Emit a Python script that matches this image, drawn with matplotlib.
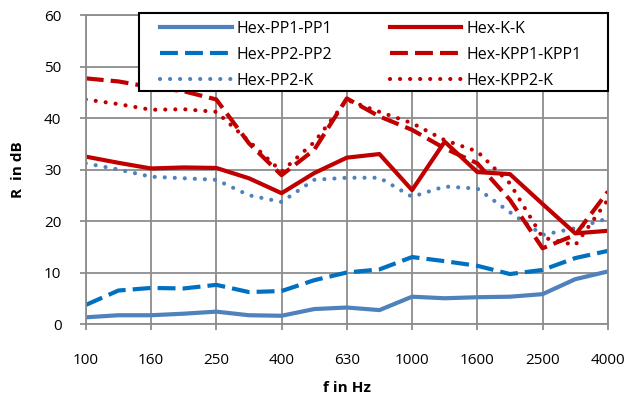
import matplotlib.pyplot as plt
from matplotlib.patches import Rectangle

freqs = ['100', '125', '160', '200', '250', '315', '400', '500', '630', '800',
         '1000', '1250', '1600', '2000', '2500', '3150', '4000']

pp1_pp1 = [1.3, 1.7, 1.7, 2.0, 2.4, 1.7, 1.6, 2.9, 3.2, 2.7, 5.3, 5.0, 5.2, 5.3, 5.8, 8.7, 10.2]
pp2_pp2 = [3.7, 6.5, 7.0, 6.9, 7.6, 6.2, 6.4, 8.5, 10.0, 10.6, 13.0, 12.2, 11.3, 9.7, 10.5, 12.8, 14.2]
pp2_k = [31.2, 30.0, 28.6, 28.3, 28.0, 25.0, 23.7, 28.0, 28.4, 28.4, 24.7, 26.7, 26.3, 21.7, 17.3, 18.6, 20.5]
k_k = [32.5, 31.3, 30.2, 30.4, 30.3, 28.3, 25.4, 29.3, 32.3, 33.0, 26.0, 35.4, 29.5, 29.1, 23.3, 17.6, 18.1]
kpp1_kpp1 = [47.7, 47.1, 46.0, 45.2, 43.6, 35.1, 28.9, 33.8, 43.8, 40.3, 37.7, 34.1, 31.2, 24.1, 14.7, 17.3, 25.7]
kpp2_k = [43.6, 42.7, 41.6, 41.7, 41.2, 35.5, 29.6, 35.3, 43.5, 41.2, 39.0, 35.7, 33.5, 27.3, 16.8, 15.3, 24.1]

light_blue = '#4F81BD'
blue = '#0070C0'
red = '#C00000'

plt.rcParams['font.family'] = ['Open Sans', 'DejaVu Sans']

fig = plt.figure(figsize=(6.26, 4.0), dpi=100)
ax = fig.add_axes([0.137, 0.19, 0.834, 0.7725])

x = list(range(len(freqs)))
lw = 3.0
dash = (0, (4.3, 1.7))
dot = (0, (0.01, 2.4))

# order matters for the 2-column legend (column-major)
ax.plot(x, pp1_pp1, color=light_blue, lw=lw, label='Hex-PP1-PP1')
ax.plot(x, pp2_pp2, color=blue, lw=lw, linestyle=dash, label='Hex-PP2-PP2')
ax.plot(x, pp2_k, color=light_blue, lw=lw, linestyle=dot, dash_capstyle='round', label='Hex-PP2-K')
ax.plot(x, k_k, color=red, lw=lw, label='Hex-K-K')
ax.plot(x, kpp1_kpp1, color=red, lw=lw, linestyle=dash, label='Hex-KPP1-KPP1')
ax.plot(x, kpp2_k, color=red, lw=lw, linestyle=dot, dash_capstyle='round', label='Hex-KPP2-K')

ax.set_xlim(0, len(freqs) - 1)
ax.set_ylim(0, 60)
ax.set_xticks(x[::2])
ax.set_xticklabels(freqs[::2])
ax.set_yticks(range(0, 61, 10))
ax.grid(True, color='#8c8c8c', lw=1.3)
ax.set_axisbelow(True)
for s in ax.spines.values():
    s.set_color('#8c8c8c')
    s.set_linewidth(1.3)
ax.tick_params(axis='both', colors='#8c8c8c', labelcolor='black', labelsize=11, length=4.5, width=1.3)
ax.tick_params(axis='x', pad=16.5)
ax.tick_params(axis='y', pad=13)

ax.set_xlabel('f in Hz', fontsize=11, fontweight='bold', labelpad=9)
ax.set_ylabel('R  in dB', fontsize=11, fontweight='bold', labelpad=14)

# legend box drawn separately so the padding can differ horizontally / vertically
box = Rectangle((0.1015, 0.754), 0.898, 0.2525, transform=ax.transAxes,
                facecolor='white', edgecolor='black', lw=1.5, zorder=4.5, clip_on=False)
ax.add_patch(box)
leg = ax.legend(ncol=2, loc='upper left', bbox_to_anchor=(0.1418, 0.981),
                fontsize=11.5, frameon=False, handlelength=4.5, handletextpad=0.3,
                columnspacing=3.6, borderpad=0, borderaxespad=0, labelspacing=0.62)
leg.set_zorder(5)

fig.savefig('out.png', dpi=100)
